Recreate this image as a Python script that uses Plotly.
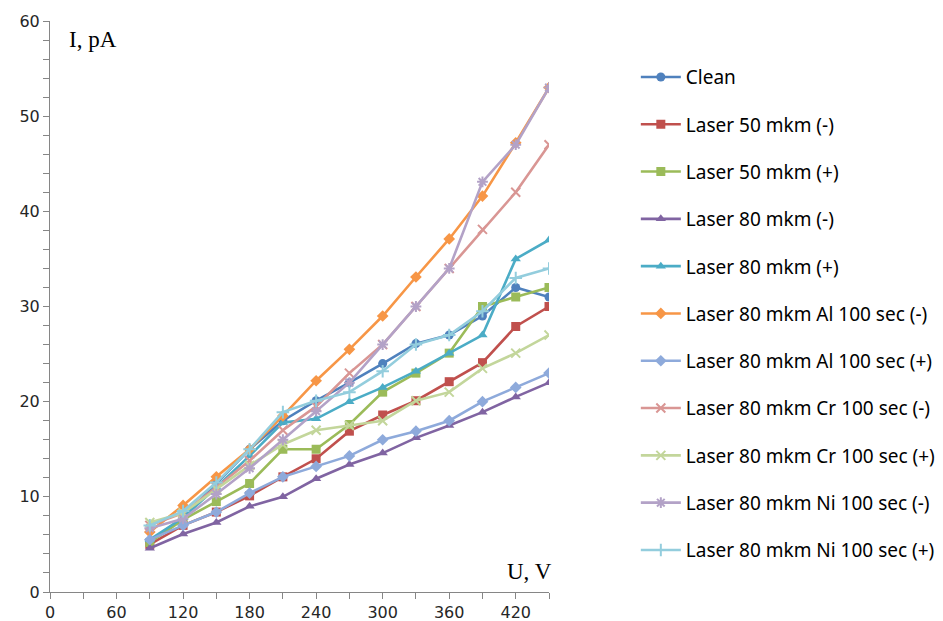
import plotly.graph_objects as go

voltage = [90, 120, 150, 180, 210, 240, 270, 300, 330, 360, 390, 420, 450]

clean       = [5.3, 7.8, 11.4, 15.0, 18.0, 20.1, 22.0, 24.0, 26.1, 27.0, 29.0, 32.0, 31.0]
l50_neg     = [5.0, 7.0, 8.4, 10.1, 12.1, 14.0, 16.9, 18.6, 20.1, 22.1, 24.1, 27.9, 30.0]
l50_pos     = [5.2, 7.6, 9.5, 11.4, 15.0, 15.0, 17.6, 21.0, 23.0, 25.1, 30.0, 31.0, 32.0]
l80_neg     = [4.6, 6.1, 7.3, 9.0, 10.0, 11.9, 13.4, 14.6, 16.2, 17.5, 18.9, 20.5, 22.0]
l80_pos     = [5.5, 7.8, 11.0, 14.3, 17.8, 18.2, 20.0, 21.5, 23.2, 25.1, 27.0, 35.0, 37.0]
al_neg      = [6.3, 9.1, 12.1, 15.0, 18.5, 22.2, 25.5, 29.0, 33.1, 37.1, 41.6, 47.2, 53.0]
al_pos      = [5.5, 7.0, 8.4, 10.4, 12.1, 13.2, 14.3, 16.0, 16.9, 18.0, 20.0, 21.5, 23.0]
cr_neg      = [7.0, 8.3, 11.0, 13.8, 17.0, 19.5, 23.0, 26.0, 30.0, 34.0, 38.1, 42.0, 47.0]
cr_pos      = [7.3, 8.3, 10.8, 13.3, 15.5, 17.0, 17.5, 18.0, 20.1, 21.0, 23.5, 25.1, 27.0]
ni_neg      = [6.7, 7.7, 10.3, 13.0, 16.0, 19.0, 22.0, 26.0, 30.0, 34.0, 43.1, 47.0, 53.0]
ni_pos      = [7.0, 8.5, 11.5, 15.0, 18.9, 20.1, 21.0, 23.2, 26.0, 27.0, 29.5, 33.0, 34.0]

series_names = [
    "Clean", "Laser 50 mkm (-)", "Laser 50 mkm (+)", "Laser 80 mkm (-)", "Laser 80 mkm (+)",
    "Laser 80 mkm Al 100 sec (-)", "Laser 80 mkm Al 100 sec (+)",
    "Laser 80 mkm Cr 100 sec (-)", "Laser 80 mkm Cr 100 sec (+)",
    "Laser 80 mkm Ni 100 sec (-)", "Laser 80 mkm Ni 100 sec (+)",
]
series_values = [clean, l50_neg, l50_pos, l80_neg, l80_pos, al_neg, al_pos,
                 cr_neg, cr_pos, ni_neg, ni_pos]
colors = ["#4F81BD", "#C0504D", "#9BBB59", "#8064A2", "#4BACC6", "#F79646",
          "#8EAADB", "#D99694", "#C3D69B", "#B3A2C7", "#93CDDD"]
symbols = ["circle", "square", "square", "triangle-up", "triangle-up", "diamond",
           "diamond", "x-thin", "x-thin", "asterisk", "cross-thin"]

fig = go.Figure()
for i, (name, vals) in enumerate(zip(series_names, series_values)):
    sym = symbols[i]
    thin = sym.endswith("thin") or sym == "asterisk"
    fig.add_trace(go.Scatter(
        x=voltage, y=vals, name=name, mode="lines+markers",
        legendgroup=f"g{i}",
        line=dict(color=colors[i], width=2.6),
        marker=dict(symbol=sym, size=9 if not thin else 9, color=colors[i],
                    line=dict(color=colors[i], width=2 if thin else 0)),
    ))

axis_common = dict(
    showgrid=False, zeroline=False, showline=True, linecolor="#868686", linewidth=1,
    ticks="outside", ticklen=6, tickcolor="#868686", automargin=False,
    tickfont=dict(family="DejaVu Sans", size=16, color="#262626"),
)
fig.update_xaxes(range=[0, 450], tick0=0, dtick=60,
                 minor=dict(dtick=30, ticks="outside", ticklen=6, tickcolor="#868686"),
                 **axis_common)
fig.update_yaxes(range=[0, 60], tick0=0, dtick=10,
                 minor=dict(dtick=2, ticks="outside", ticklen=6, tickcolor="#868686"),
                 **axis_common)

fig.add_annotation(text="I, pA", xref="paper", yref="paper", x=0.034, y=0.967,
                   xanchor="left", yanchor="middle", showarrow=False,
                   font=dict(family="Liberation Serif", size=23, color="#000000"))
fig.add_annotation(text="U, V", xref="paper", yref="paper", x=1.01, y=0.036,
                   xanchor="right", yanchor="middle", showarrow=False,
                   font=dict(family="Liberation Serif", size=23, color="#000000"))

fig.update_layout(
    width=943, height=621,
    margin=dict(l=50, r=394, t=21, b=29, autoexpand=False),
    plot_bgcolor="white", paper_bgcolor="white",
    legend=dict(x=1.174, y=0.935, xanchor="left", yanchor="top",
                font=dict(family="Noto Sans", size=19, color="#000000"),
                tracegroupgap=19.6, itemwidth=40, bgcolor="rgba(0,0,0,0)"),
)

fig.write_html("out.html", config={"displayModeBar": False},
               post_script="document.body.style.margin='0';")
